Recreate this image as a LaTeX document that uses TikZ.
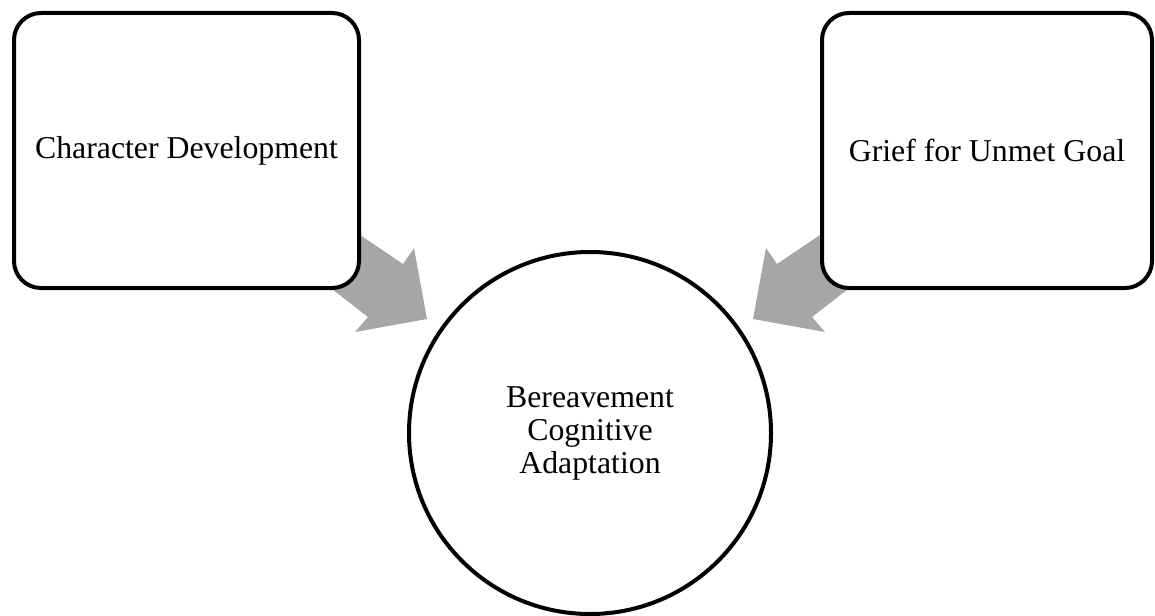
\documentclass[tikz,border=0pt]{standalone}
\usepackage{fontspec}
\setmainfont{Liberation Serif}
\begin{document}
\definecolor{arrowgray}{RGB}{166,166,166}
\begin{tikzpicture}[x=1pt,y=-1pt,
  box/.style={draw=black,line width=4pt,fill=white,rounded corners=27pt,
    minimum width=345pt,minimum height=275pt,inner sep=0pt,align=center,
    font=\fontsize{31.8}{33}\selectfont},
  hub/.style={draw=black,line width=4pt,fill=white,circle,minimum size=362pt,
    inner sep=0pt,align=center,font=\fontsize{31.8}{33}\selectfont},
  blockarrow/.style={fill=arrowgray,draw=none}]
\useasboundingbox (0,0) rectangle (1155,615);

% block arrows, drawn first so their tails sit under the boxes
\fill[blockarrow] (340,221.5) -- (403,264) -- (414,248) -- (427,319)
  -- (355,332) -- (368,317) -- (310,272) -- cycle;
\fill[blockarrow] (840,221.5) -- (777,264) -- (766,248) -- (753,319)
  -- (825,332) -- (812,317) -- (870,272) -- cycle;

\node[box] (dev) at (186.5,150.5) {Character Development};
\node[box,minimum width=330pt] (grief) at (987,150.5) {Grief for Unmet Goal};
\node[hub] (adapt) at (590,433) {Bereavement\\Cognitive\\Adaptation};
\end{tikzpicture}
\end{document}
